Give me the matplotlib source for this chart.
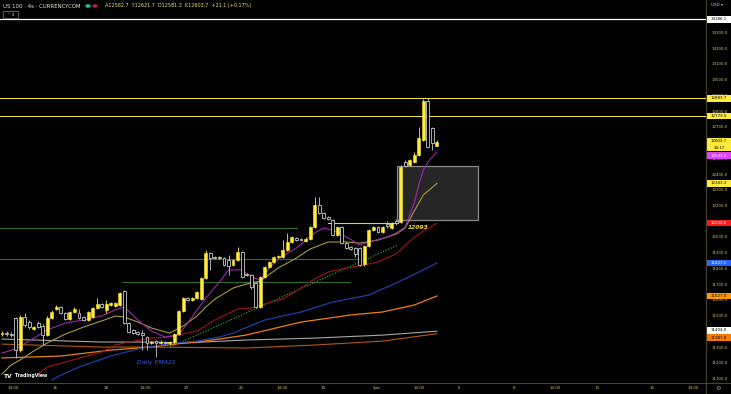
import matplotlib
matplotlib.use("Agg")
import matplotlib.pyplot as plt
from matplotlib.patches import Rectangle, FancyBboxPatch, Circle
import numpy as np

# ---------------- data (US 100, 4h candles) ----------------
opens = [11386, 11392, 11386, 11487, 11284, 11494, 11462, 11418, 11456, 11437,
         11379, 11487, 11545, 11557, 11519, 11481, 11526, 11519, 11494, 11475,
         11494, 11551, 11576, 11538, 11570, 11564, 11570, 11659, 11456, 11411,
         11398, 11392, 11367, 11329, 11341, 11329, 11335, 11329, 11335, 11386,
         11532, 11615, 11602, 11615, 11608, 11742, 11901, 11875, 11869, 11869,
         11856, 11824, 11856, 11907, 11767, 11761, 11710, 11557, 11748, 11812,
         11843, 11875, 11875, 11920, 11971, 11996, 11990, 11977, 11990, 12066,
         12206, 12155, 12130, 12110, 12015, 12066, 11964, 11939, 11932, 11932,
         11831, 11945, 12047, 12066, 12034, 12085, 12060, 12104, 12098, 12479,
         12460, 12479, 12524, 12619, 12870, 12695, 12582.7]
highs = [11405, 11405, 11398, 11494, 11507, 11519, 11475, 11437, 11468, 11449,
         11500, 11538, 11570, 11564, 11526, 11532, 11557, 11545, 11500, 11532,
         11557, 11615, 11583, 11602, 11589, 11589, 11653, 11665, 11462, 11418,
         11405, 11411, 11373, 11341, 11348, 11348, 11341, 11341, 11392, 11538,
         11621, 11621, 11621, 11659, 11748, 11920, 11907, 11882, 11882, 11875,
         11888, 11863, 11939, 11913, 11774, 11767, 11716, 11754, 11818, 11850,
         11882, 11888, 11983, 12028, 12009, 12002, 11996, 12002, 12072, 12257,
         12257, 12161, 12136, 12117, 12072, 12072, 11971, 11945, 11939, 11939,
         11952, 12053, 12072, 12072, 12072, 12104, 12098, 12117, 12460, 12492,
         12498, 12543, 12702, 12878, 12884, 12702, 12621.7]
lows = [11373, 11373, 11367, 11233, 11271, 11430, 11418, 11411, 11424, 11316,
        11373, 11481, 11538, 11513, 11475, 11475, 11519, 11481, 11468, 11468,
        11487, 11545, 11551, 11519, 11564, 11557, 11564, 11449, 11392, 11386,
        11379, 11284, 11284, 11322, 11240, 11322, 11322, 11316, 11322, 11379,
        11526, 11596, 11596, 11608, 11602, 11735, 11793, 11863, 11863, 11818,
        11761, 11818, 11850, 11742, 11754, 11672, 11551, 11551, 11742, 11805,
        11837, 11869, 11869, 11913, 11964, 11977, 11977, 11971, 11983, 12060,
        12149, 12117, 12110, 12009, 12009, 11958, 11926, 11920, 11875, 11818,
        11818, 11939, 12041, 12028, 12028, 12060, 12053, 12079, 12091, 12447,
        12454, 12473, 12517, 12613, 12568, 12555, 12581.3]
closes = [11392, 11386, 11379, 11284, 11494, 11443, 11430, 11430, 11430, 11379,
          11487, 11526, 11557, 11519, 11481, 11526, 11545, 11487, 11475, 11526,
          11551, 11576, 11557, 11576, 11583, 11583, 11646, 11456, 11398, 11392,
          11386, 11379, 11329, 11335, 11329, 11335, 11329, 11335, 11386, 11532,
          11615, 11602, 11615, 11653, 11742, 11901, 11869, 11869, 11875, 11824,
          11818, 11856, 11907, 11748, 11761, 11684, 11557, 11748, 11812, 11843,
          11875, 11882, 11920, 11971, 12002, 11983, 11983, 11990, 12066, 12206,
          12155, 12123, 12117, 12015, 12066, 11964, 11932, 11926, 11894, 11824,
          11945, 12047, 12066, 12034, 12066, 12072, 12091, 12091, 12447, 12454,
          12492, 12524, 12632, 12870, 12575, 12600, 12603.7]

# moving averages (bar index -> value)
purple_idx = [0, 3, 6, 10, 14, 18, 22, 25, 27, 30, 33, 36, 39, 41, 45, 48, 50, 53, 55,
              57, 59, 61, 65, 69, 71, 73, 76, 79, 81, 85, 87, 89, 91, 92, 93, 94, 96]
purple_val = [11265, 11291, 11342, 11412, 11456, 11475, 11501, 11539, 11558, 11475,
              11405, 11367, 11380, 11456, 11615, 11717, 11793, 11793, 11749, 11729,
              11806, 11863, 11933, 12028, 12060, 12047, 12003, 11952, 11971, 12003,
              12028, 12066, 12219, 12333, 12429, 12479, 12543.3]
khaki_idx = [0, 2, 4, 7, 10, 14, 18, 22, 25, 27, 30, 33, 37, 40, 43, 45, 47, 51, 54,
             57, 61, 65, 68, 72, 76, 79, 83, 87, 89, 91, 93, 96]
khaki_val = [11132, 11189, 11221, 11278, 11329, 11386, 11430, 11469, 11500, 11494,
             11462, 11424, 11392, 11437, 11500, 11558, 11608, 11678, 11704, 11723,
             11806, 11869, 11926, 11971, 11971, 11964, 11983, 12022, 12060, 12168,
             12270, 12343.3]
red_idx = [8, 10, 14, 22, 25, 28, 33, 37, 43, 47, 52, 55, 58, 62, 65, 69, 72, 76, 80,
           83, 87, 90, 93, 96]
red_val = [11132, 11176, 11208, 11272, 11316, 11335, 11360, 11367, 11405, 11475,
           11545, 11551, 11577, 11609, 11659, 11736, 11780, 11805, 11825, 11844,
           11895, 11977, 12041, 12090.8]
blue_idx = [11, 13, 17, 24, 31, 38, 43, 48, 51, 58, 66, 73, 81, 87, 92, 96]
blue_val = [11094, 11125, 11176, 11246, 11297, 11329, 11341, 11367, 11392, 11475,
            11526, 11589, 11634, 11710, 11780, 11837.5]
orange_idx = [0, 13, 24, 33, 38, 43, 48, 54, 66, 77, 84, 91, 96]
orange_val = [11234, 11246, 11284, 11303, 11322, 11335, 11354, 11380, 11462, 11507,
              11526, 11570, 11627.8]
grey_idx = [0, 22, 33, 40, 54, 69, 84, 96]
grey_val = [11354, 11335, 11335, 11329, 11348, 11360, 11379, 11404.0]
brown_idx = [0, 22, 33, 54, 69, 84, 96]
brown_val = [11322, 11303, 11303, 11297, 11316, 11341, 11387.8]

# drawn levels
white_level = 13386.1
yellow_levels = [12883.7, 12773.5]
green_levels = [12060, 11863, 11718]
green_starts = [-0.44, -0.44, 26.5]
green_ends = [65.1, 78.4, 76.8]
level_12093 = 12093
trend_idx = [37.1, 87.4]
trend_val = [11303, 11952]
box_idx = [87.2, 105.1]
box_val = [12110, 12454]

time_ticks = [2.43, 11.70, 22.96, 31.57, 40.62, 52.76, 61.81, 70.86, 82.78, 92.05,
              100.88, 113.02, 122.08, 131.35, 143.49, 152.54]
time_labels = ["14:00", "16", "18", "14:00", "23", "25", "14:00", "30", "Şub", "14:00",
               "6", "8", "14:00", "13", "15", "14:00"]
price_ticks = list(range(11100, 13400, 100))

# (value, background, text colour)
price_labels = [(13386.1, "#ffffff", "#000000"), (12883.7, "#ffeb3b", "#000000"),
                (12773.5, "#ffeb3b", "#000000"), (12543.3, "#e040fb", "#ffffff"),
                (12343.3, "#ffeb3b", "#000000"), (12090.8, "#ff1a1a", "#ffffff"),
                (11837.5, "#2962ff", "#ffffff"), (11627.8, "#ff9800", "#000000"),
                (11404.0, "#ffffff", "#000000"), (11387.8, "#f57c00", "#000000")]
# where each label box sits on the scale (shifted apart where they would collide)
price_label_pos = [13386.1, 12883.7, 12773.5, 12520, 12343.3, 12090.8, 11837.5, 11627.8,
                   11409, 11363]
last_price = 12603.7
countdown = "34:17"

# ---------------- figure ----------------
W, H = 731, 394
fig = plt.figure(figsize=(W / 100, H / 100), dpi=100, facecolor="black")
PLOT_W, PLOT_H, BOT = 706, 383, 11
ax = fig.add_axes([0, BOT / H, PLOT_W / W, PLOT_H / H])
ax.set_facecolor("black")
YMIN, YMAX = 11074.6, 13509.3
ax.set_ylim(YMIN, YMAX)
ax.set_xlim(-0.44, 155.4)
for s in ax.spines.values():
    s.set_visible(False)
ax.set_yticks([])
ax.set_xticks(time_ticks)
ax.set_xticklabels(time_labels)
ax.tick_params(axis="x", length=0, pad=2.2, labelsize=2.9, labelcolor="#d4c36a")

UP = "#ffeb3b"
DN = "#c8c8c8"
TXT = "#d4c36a"

# box drawing
ax.add_patch(Rectangle((box_idx[0], box_val[0]), box_idx[1] - box_idx[0], box_val[1] - box_val[0],
                       facecolor="#262626", edgecolor="#8a8a8a", lw=0.9, zorder=1))

# levels
ax.axhline(white_level, color="#ffffff", lw=0.9, zorder=2)
for lv in yellow_levels:
    ax.axhline(lv, color=UP, lw=0.7, zorder=2)
for lv, a, b in zip(green_levels, green_starts, green_ends):
    ax.plot([a, b], [lv, lv], color="#2e6e30", lw=0.8, zorder=2)
ax.plot([72.0, 87.4], [level_12093, level_12093], color="#e8d630", lw=0.8, zorder=2)
ax.plot(trend_idx, trend_val, color="#3fbf3f", lw=0.8, ls=(0, (1, 1.5)), zorder=2)

# moving averages
ax.plot(brown_idx, brown_val, color="#b45a10", lw=0.8, zorder=3)
ax.plot(grey_idx, grey_val, color="#a8a8a8", lw=0.8, zorder=3)
ax.plot(orange_idx, orange_val, color="#f08010", lw=0.9, zorder=3)
ax.plot(blue_idx, blue_val, color="#1e3fa8", lw=0.9, zorder=3)
ax.plot(red_idx, red_val, color="#a01414", lw=0.8, zorder=3)
ax.plot(khaki_idx, khaki_val, color="#a89840", lw=0.8, zorder=3)
ax.plot(purple_idx, purple_val, color="#9c27b0", lw=0.8, zorder=3)

# candles
o = np.array(opens); h = np.array(highs); l = np.array(lows); c = np.array(closes)
x = np.arange(len(o))
up = c >= o
ax.vlines(x[up], l[up], h[up], color=UP, lw=0.6, zorder=4)
ax.vlines(x[~up], l[~up], h[~up], color=DN, lw=0.6, zorder=4)
bb = np.minimum(o, c)
bh = np.maximum(np.abs(c - o), 5)
ax.bar(x[up], bh[up], bottom=bb[up], width=0.64, color=UP, edgecolor=UP, lw=0.4, zorder=5)
ax.bar(x[~up], bh[~up], bottom=bb[~up], width=0.64, facecolor="black", edgecolor=DN, lw=0.6, zorder=5)

# annotations
ax.text(89.6, 12066, "12093", color="#f2dc30", fontsize=4.3, fontstyle="italic",
        fontweight="bold", va="center", ha="left", zorder=7)
ax.text(29.8, 11208, "Daily EMA21", color="#2962ff", fontsize=4.4, fontstyle="italic",
        va="center", ha="left", zorder=7)

# ---------------- price scale ----------------
pax = fig.add_axes([PLOT_W / W, BOT / H, (W - PLOT_W) / W, PLOT_H / H])
pax.set_facecolor("black")
pax.set_ylim(YMIN, YMAX)
pax.set_xlim(0, 1)
pax.set_xticks([]); pax.set_yticks([])
for s in pax.spines.values():
    s.set_visible(False)
for p in price_ticks:
    pax.text(0.56, p, f"{p:.1f}", color=TXT, fontsize=2.9, ha="center", va="center", zorder=2)
ppx = (YMAX - YMIN) / PLOT_H
for (val, bg, fg), pos in zip(price_labels, price_label_pos):
    pax.add_patch(Rectangle((0.03, pos - 3.2 * ppx), 0.97, 6.4 * ppx, facecolor=bg,
                            edgecolor="none", zorder=3))
    pax.text(0.52, pos, f"{val:.1f}", color=fg, fontsize=2.9, ha="center", va="center", zorder=4)
pax.add_patch(Rectangle((0.03, last_price - 9.0 * ppx), 0.97, 13.5 * ppx, facecolor=UP,
                        edgecolor="none", zorder=3))
pax.text(0.52, last_price + 1.0 * ppx, f"{last_price:.1f}", color="#000000", fontsize=2.8,
         ha="center", va="center", zorder=4)
pax.text(0.52, last_price - 5.5 * ppx, countdown, color="#000000", fontsize=2.8,
         ha="center", va="center", zorder=4)
pax.text(0.45, YMAX - 5 * ppx, "USD ▾", color="#d0d0d0", fontsize=3.0, ha="center",
         va="center", zorder=4)

# separators
fig.add_artist(plt.Line2D([PLOT_W / W, PLOT_W / W], [0, 1], color="#48422a", lw=0.8))
fig.add_artist(plt.Line2D([0, 1], [BOT / H, BOT / H], color="#48422a", lw=0.8))

def fx(px):
    return px / W

def fy(py):
    return 1 - py / H

# header
fig.text(fx(3), fy(6), "US 100 · 4s · CURRENCYCOM", color="#e6e6d0", fontsize=3.9,
         ha="left", va="center")
fig.add_artist(Circle((fx(88), fy(6)), 2.0 / W, transform=fig.transFigure, color="#1fbf9f"))
fig.add_artist(Circle((fx(95), fy(6)), 2.0 / W, transform=fig.transFigure, color="#b0204a"))
fig.text(fx(105), fy(6), "A12582.7  Y12621.7  D12581.3  K12603.7  +21.1 (+0.17%)",
         color="#ece070", fontsize=3.5, ha="left", va="center")
fig.add_artist(FancyBboxPatch((fx(4), fy(18)), 14 / W, 6 / H, boxstyle="round,pad=0.001",
                              transform=fig.transFigure, facecolor="black",
                              edgecolor="#8a8a8a", lw=0.5))
fig.text(fx(11), fy(15), "˅ 3", color="#e0e0e0", fontsize=3.2, ha="center", va="center")

# footer logo and settings
fig.text(fx(4), fy(376), "TV", color="#ffffff", fontsize=4.2, fontweight="bold",
         ha="left", va="center")
fig.text(fx(15), fy(376), "TradingView", color="#ffffff", fontsize=3.3, fontweight="bold",
         ha="left", va="center")
fig.text(fx(718), fy(389), "⚙", color="#a0a0a0", fontsize=4.5, ha="center", va="center")

fig.savefig("out.png", dpi=100, facecolor="black")
